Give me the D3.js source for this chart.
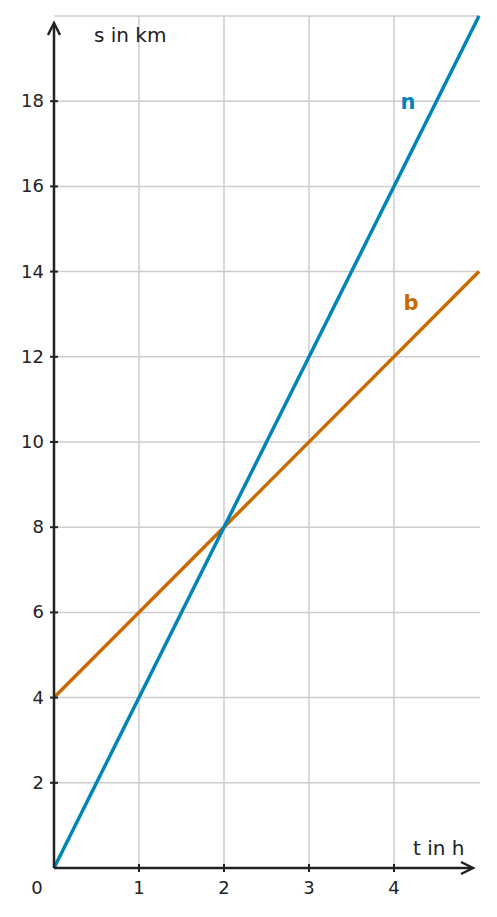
<!DOCTYPE html>
<html><head><meta charset="utf-8">
<script src="https://cdn.jsdelivr.net/npm/d3@7"></script>
<style>body{margin:0;background:#fff}text{font-family:"DejaVu Sans",sans-serif}</style>
</head><body><svg id="c" width="497" height="917"></svg>
<script>
const xTicks=[1,2,3,4];
const yTicks=[2,4,6,8,10,12,14,16,18];
const tN=[0,5], sN=[0,20];
const tB=[0,5], sB=[4,14];
const x=d3.scaleLinear().domain([0,5]).range([54,479]);
const y=d3.scaleLinear().domain([0,20]).range([868,16]);
const svg=d3.select("#c");
const g=svg.append("g");
g.selectAll(".gx").data(xTicks).join("line").attr("x1",d=>x(d)).attr("x2",d=>x(d)).attr("y1",y(0)).attr("y2",y(20)).attr("stroke","#ccc").attr("stroke-width",1.5);
g.selectAll(".gy").data(yTicks.concat([20])).join("line").attr("x1",x(0)).attr("x2",x(5.01)).attr("y1",d=>y(d)).attr("y2",d=>y(d)).attr("stroke","#ccc").attr("stroke-width",1.5);
const line=d3.line().x(d=>x(d[0])).y(d=>y(d[1]));
svg.append("path").attr("d",line(tB.map((t,i)=>[t,sB[i]]))).attr("stroke","#c86a00").attr("stroke-width",3.5).attr("fill","none");
svg.append("path").attr("d",line(tN.map((t,i)=>[t,sN[i]]))).attr("stroke","#0085b8").attr("stroke-width",3.5).attr("fill","none");
// axes
const ax="#222";
svg.append("line").attr("x1",x(0)).attr("x2",472).attr("y1",y(0)).attr("y2",y(0)).attr("stroke",ax).attr("stroke-width",2.5);
svg.append("line").attr("x1",x(0)).attr("x2",x(0)).attr("y1",y(0)).attr("y2",24).attr("stroke",ax).attr("stroke-width",2.5);
svg.append("path").attr("d",`M${x(0)-6},35 L${x(0)},23 L${x(0)+6},35`).attr("stroke",ax).attr("stroke-width",2.5).attr("fill","none");
svg.append("path").attr("d",`M461,${y(0)-6} L473,${y(0)} L461,${y(0)+6}`).attr("stroke",ax).attr("stroke-width",2.5).attr("fill","none");
svg.selectAll(".tx").data(xTicks).join("line").attr("x1",d=>x(d)).attr("x2",d=>x(d)).attr("y1",y(0)-4).attr("y2",y(0)+4).attr("stroke",ax).attr("stroke-width",2);
svg.selectAll(".ty").data(yTicks).join("line").attr("x1",x(0)-4).attr("x2",x(0)+4).attr("y1",d=>y(d)).attr("y2",d=>y(d)).attr("stroke",ax).attr("stroke-width",2);
svg.selectAll(".lx").data(xTicks).join("text").attr("x",d=>x(d)).attr("y",894).attr("text-anchor","middle").attr("font-size",18).attr("fill","#222").text(d=>d);
svg.selectAll(".ly").data(yTicks).join("text").attr("x",44).attr("y",d=>y(d)+6).attr("text-anchor","end").attr("font-size",18).attr("fill","#222").text(d=>d);
svg.append("text").attr("x",37).attr("y",894).attr("text-anchor","middle").attr("font-size",18).attr("fill","#222").text("0");
svg.append("text").attr("x",94).attr("y",42).attr("font-size",20).attr("fill","#222").text("s in km");
svg.append("text").attr("x",413).attr("y",855).attr("font-size",20).attr("fill","#222").text("t in h");
svg.append("text").attr("x",408).attr("y",109).attr("text-anchor","middle").attr("font-size",21).attr("font-weight","bold").attr("fill","#0085b8").text("n");
svg.append("text").attr("x",411).attr("y",310).attr("text-anchor","middle").attr("font-size",21).attr("font-weight","bold").attr("fill","#c86a00").text("b");
</script></body></html>
